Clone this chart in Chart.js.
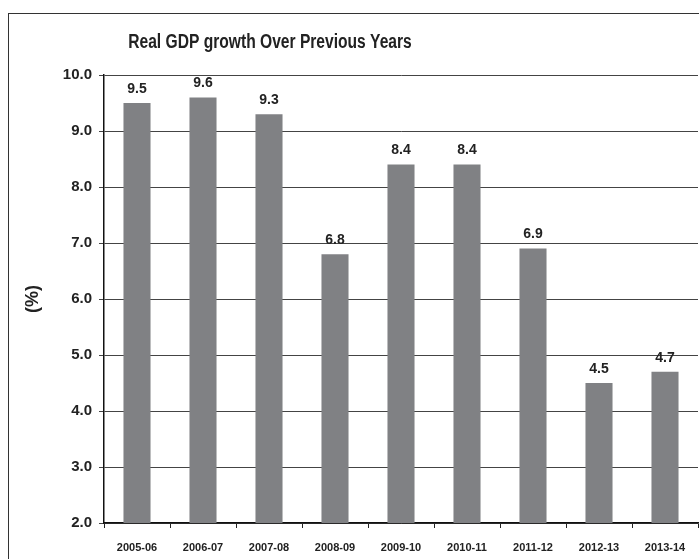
<!DOCTYPE html>
<html>
<head>
<meta charset="utf-8">
<script src="https://cdn.jsdelivr.net/npm/chart.js@4.4.1/dist/chart.umd.min.js"></script>
<style>
  html, body { margin:0; padding:0; background:#fff; overflow:hidden; width:699px; height:559px; }
  #frame { position:absolute; left:8px; top:13px; width:760px; height:600px; border:1.5px solid #333; }
  #wrap { position:absolute; left:10px; top:15px; width:689px; height:544px; }
</style>
</head>
<body>
<div id="frame"></div>
<div id="wrap"><canvas id="chart"></canvas></div>
<script>
/* ===== DATA ===== */
const years  = ['2005-06','2006-07','2007-08','2008-09','2009-10','2010-11','2011-12','2012-13','2013-14'];
const growth = [9.5, 9.6, 9.3, 6.8, 8.4, 8.4, 6.9, 4.5, 4.7];
const yTicks = [2, 3, 4, 5, 6, 7, 8, 9, 10];
const TITLE  = 'Real GDP growth Over Previous Years';

const FONT = "'Liberation Sans', Arial, sans-serif";

// value labels on top of each bar
const barLabels = {
  id: 'barLabels',
  afterDatasetsDraw(chart) {
    const ctx = chart.ctx;
    const meta = chart.getDatasetMeta(0);
    ctx.save();
    ctx.font = 'bold 14px ' + FONT;
    ctx.fillStyle = '#222';
    ctx.textAlign = 'center';
    ctx.textBaseline = 'bottom';
    meta.data.forEach((bar, i) => {
      ctx.fillText(growth[i].toFixed(1), bar.x, bar.y - 7);
    });
    ctx.restore();
  }
};

// condensed title (no narrow font installed, so squeeze it horizontally)
const narrowTitle = {
  id: 'narrowTitle',
  afterDraw(chart) {
    const ctx = chart.ctx;
    ctx.save();
    ctx.translate(260, 27);
    ctx.scale(0.78, 1);
    ctx.font = 'bold 20px ' + FONT;
    ctx.fillStyle = '#222';
    ctx.textAlign = 'center';
    ctx.textBaseline = 'middle';
    ctx.fillText(TITLE, 0, 0);
    ctx.restore();
  }
};

new Chart(document.getElementById('chart'), {
  type: 'bar',
  data: {
    labels: years,
    datasets: [{
      data: growth,
      backgroundColor: '#808184',
      borderWidth: 0,
      categoryPercentage: 1,
      barPercentage: 0.41
    }]
  },
  options: {
    responsive: true,
    maintainAspectRatio: false,
    animation: false,
    layout: { padding: { top: 60, right: 1 } },
    plugins: {
      legend: { display: false },
      tooltip: { enabled: false },
      title: { display: false }
    },
    scales: {
      x: {
        offset: true,
        grid: { display: true, drawOnChartArea: false, offset: true, tickLength: 5, color: '#222' },
        border: { display: true, color: '#111', width: 1.5 },
        ticks: { color: '#222', font: { family: FONT, size: 11, weight: 'bold' }, padding: 13, maxRotation: 0, autoSkip: false },
        afterFit(scale) { scale.height = 36; }
      },
      y: {
        min: yTicks[0],
        max: yTicks[yTicks.length - 1],
        afterBuildTicks(scale) { scale.ticks = yTicks.map(v => ({ value: v })); },
        grid: { color: '#444', lineWidth: 1, tickLength: 5 },
        border: { display: true, color: '#111', width: 1.5 },
        ticks: {
          color: '#222',
          font: { family: FONT, size: 15, weight: 'bold' },
          padding: 7,
          callback: v => Number(v).toFixed(1)
        },
        title: {
          display: true,
          text: '(%)',
          color: '#222',
          font: { family: FONT, size: 18, weight: 'bold' },
          padding: { top: 12, bottom: 0 }
        },
        afterFit(scale) { scale.width = 94; }
      }
    }
  },
  plugins: [barLabels, narrowTitle]
});
</script>
</body>
</html>
